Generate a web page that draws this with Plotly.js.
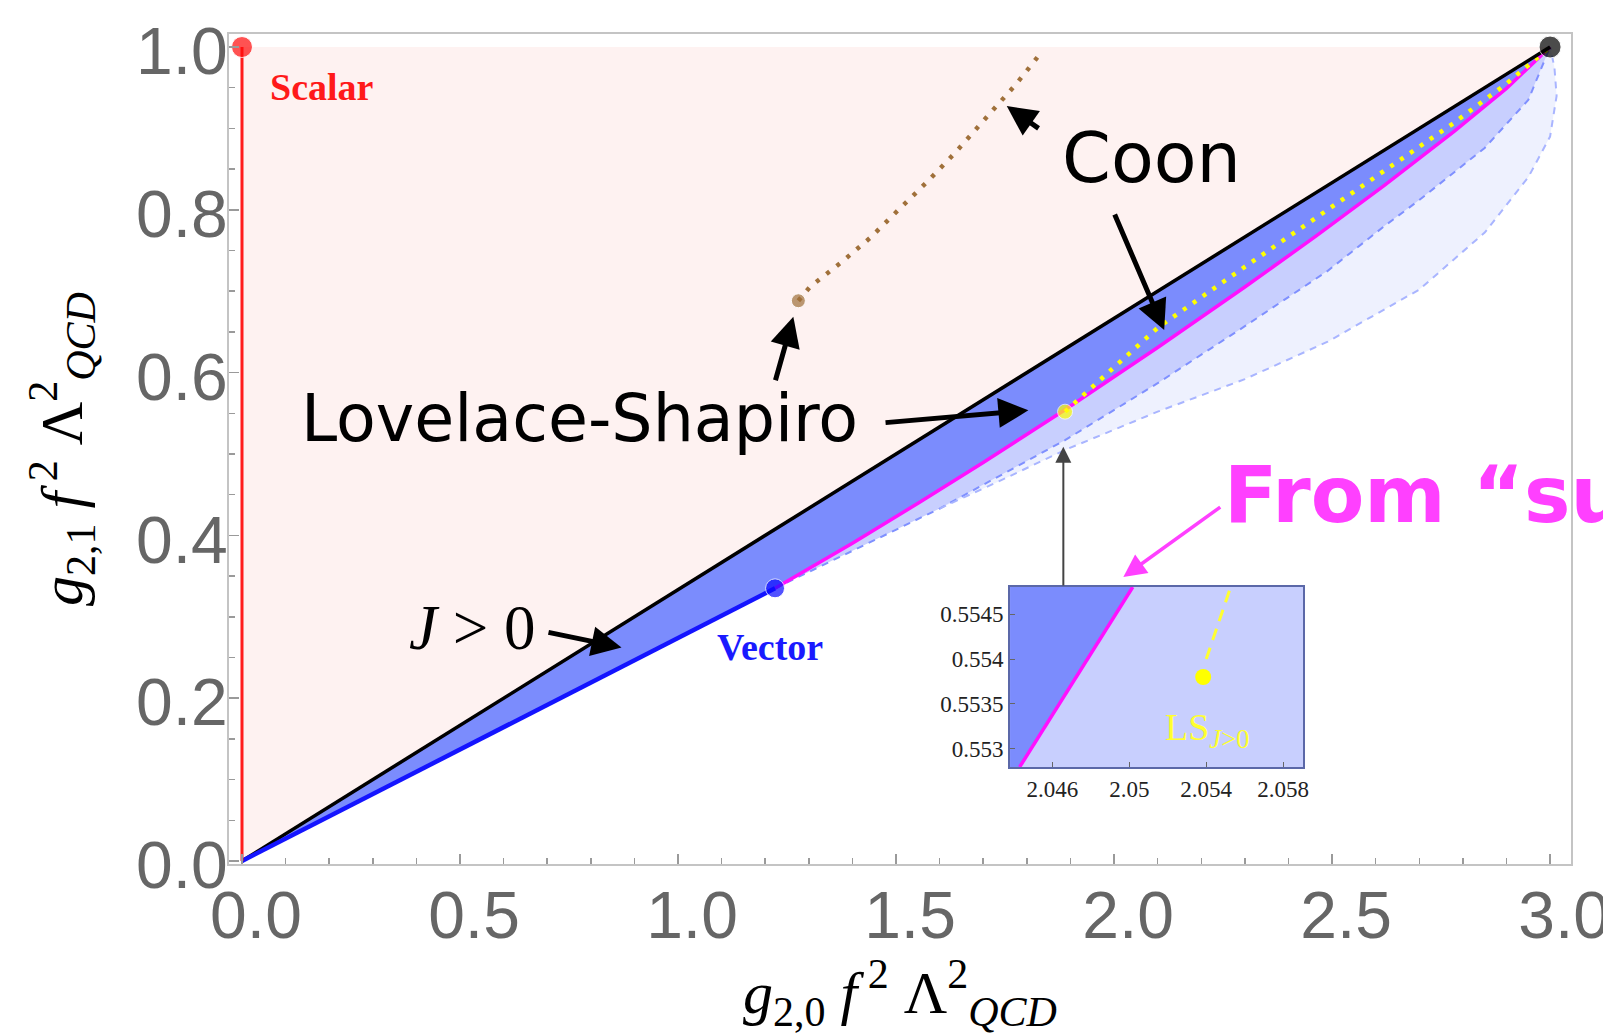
<!DOCTYPE html>
<html>
<head>
<meta charset="utf-8">
<script src="https://cdn.plot.ly/plotly-3.0.1.min.js"></script>
<style>html,body{margin:0;padding:0;background:#fff;}#chart{width:1603px;height:1035px;}</style>
</head>
<body>
<div id="chart"></div>
<script>
// ---- main plot data ----
const scalarX = [0, 0];
const scalarY = [0, 1];
const upperX = [0, 3];           // J>0 upper boundary (black)
const upperY = [0, 1];
const vectorX = [0, 1.2225];      // vector boundary (blue)
const vectorY = [0, 0.335];
const magentaX = [1.2225, 1.4, 1.555, 1.7, 1.8876, 2.1, 2.3, 2.463, 2.62, 2.78, 2.9, 3.0];
const magentaY = [0.335, 0.3905, 0.441, 0.4896, 0.5543, 0.6308, 0.7052, 0.7676, 0.83, 0.8964, 0.9492, 1.0];
const innerX = [1.2225, 1.45, 1.6, 1.8876, 2.1, 2.3, 2.49, 2.62, 2.7, 2.85, 2.95, 3.0];
const innerY = [0.335, 0.394, 0.433, 0.517, 0.587, 0.657, 0.725, 0.78, 0.812, 0.876, 0.935, 1.0];
const outerX = [1.6, 1.75, 1.8876, 2.1, 2.3, 2.49, 2.7, 2.85, 2.95, 3.0, 3.015, 3.01, 3.0];
const outerY = [0.433, 0.47, 0.505, 0.552, 0.592, 0.638, 0.702, 0.772, 0.84, 0.89, 0.94, 0.975, 1.0];
const coonX = [1.8876, 1.95, 2.1, 2.3, 2.463, 2.62, 2.78, 2.9, 3.0];
const coonY = [0.552, 0.582, 0.655, 0.73, 0.79, 0.848, 0.907, 0.955, 1.0];
const brownX = [1.276, 1.303, 1.3755, 1.4404, 1.509, 1.574, 1.6353, 1.6966, 1.7385, 1.7768, 1.815, 1.834];
const brownY = [0.6883, 0.7055, 0.736, 0.7654, 0.8018, 0.8357, 0.870, 0.9063, 0.9308, 0.9554, 0.981, 0.9942];
const pointNames = ['Scalar', 'Vector', 'LS', 'Brown', 'End'];
const pointX = [0, 1.2225, 1.8876, 1.276, 3.0];
const pointY = [1.0, 0.335, 0.552, 0.6883, 1.0];

// ---- inset data ----
const insetMagX = [2.0443, 2.05018];
const insetMagY = [0.5528, 0.5548];
const insetLSX = [2.05384];
const insetLSY = [0.5538];
const insetDashX = [2.0540, 2.05527];
const insetDashY = [0.5540, 0.5548];
const insetXRange = [2.0438, 2.05903];
const insetYRange = [0.55280, 0.5548];

const cPink = '#fef2f1', cDark = '#7b8cfd', cLight = '#c8cffe', cLighter = '#eef1fe';

const rev = a => a.slice().reverse();
const traces = [];
const innTail = innerX.map((x, i) => [x, innerY[i]]).filter(p => p[0] >= 1.6);
traces.push({x: outerX.concat(rev(innTail.map(p => p[0]))), y: outerY.concat(rev(innTail.map(p => p[1]))),
  fill: 'toself', fillcolor: cLighter, line: {width: 0}, mode: 'lines'});
traces.push({x: magentaX.concat(rev(innerX)), y: magentaY.concat(rev(innerY)),
  fill: 'toself', fillcolor: cLight, line: {width: 0}, mode: 'lines'});
traces.push({x: [upperX[0], scalarX[1], upperX[1]], y: [upperY[0], scalarY[1], upperY[1]],
  fill: 'toself', fillcolor: cPink, line: {width: 0}, mode: 'lines'});
traces.push({x: upperX.concat(rev(magentaX), rev(vectorX)), y: upperY.concat(rev(magentaY), rev(vectorY)),
  fill: 'toself', fillcolor: cDark, line: {width: 0}, mode: 'lines'});
traces.push({x: innerX, y: innerY, mode: 'lines', line: {color: '#7f90ff', width: 2, dash: '7px,6px'}});
traces.push({x: outerX, y: outerY, mode: 'lines', line: {color: '#a9b5ff', width: 2, dash: '7px,6px'}});
traces.push({x: magentaX, y: magentaY, mode: 'lines', line: {color: '#ff10ff', width: 3.5}});
traces.push({x: coonX, y: coonY, mode: 'lines', line: {color: '#ffff00', width: 4.5, dash: '4px,8px'}});
traces.push({x: upperX, y: upperY, mode: 'lines', line: {color: '#000000', width: 3.5}});
traces.push({x: vectorX, y: vectorY, mode: 'lines', line: {color: '#1414ff', width: 4.5}});
traces.push({x: scalarX, y: scalarY, mode: 'lines', line: {color: '#ff1c1c', width: 3}});
traces.push({x: brownX, y: brownY, mode: 'lines', line: {color: '#a0703a', width: 4.5, dash: '4px,9px'}});
traces.push({x: pointX, y: pointY, text: pointNames, mode: 'markers', cliponaxis: false,
  marker: {size: [21, 19, 15, 14, 22], color: ['#ff0a0a', '#0a0aff', '#ffff00', '#a0703a', '#000000']}});

// inset traces
const ix = 'x2', iy = 'y2';
traces.push({x: [insetXRange[0], insetMagX[0], insetMagX[1], insetXRange[0]],
  y: [insetYRange[0], insetMagY[0], insetMagY[1], insetYRange[1]],
  fill: 'toself', fillcolor: cDark, line: {width: 0}, mode: 'lines', xaxis: ix, yaxis: iy});
traces.push({x: [insetMagX[0], insetXRange[1], insetXRange[1], insetMagX[1]],
  y: [insetMagY[0], insetYRange[0], insetYRange[1], insetMagY[1]],
  fill: 'toself', fillcolor: cLight, line: {width: 0}, mode: 'lines', xaxis: ix, yaxis: iy});
traces.push({x: insetMagX, y: insetMagY, mode: 'lines', line: {color: '#ff10ff', width: 3.5}, xaxis: ix, yaxis: iy});
traces.push({x: insetDashX, y: insetDashY, mode: 'lines', line: {color: '#ffff30', width: 3, dash: '12px,8px'}, xaxis: ix, yaxis: iy});
traces.push({x: insetLSX, y: insetLSY, mode: 'markers', marker: {size: 16, color: '#ffff00'}, xaxis: ix, yaxis: iy});

function hand(size, color, weight) { return {family: 'DejaVu Sans', size: size, color: color, weight: weight}; }
function arrow(x, y, ax, ay, color, width, size) {
  return {x: x, y: y, ax: ax, ay: ay, xref: 'x', yref: 'y', axref: 'x', ayref: 'y', text: '',
    showarrow: true, arrowhead: 2, arrowsize: size, arrowwidth: width, arrowcolor: color, standoff: 0};
}
const annotations = [
  {x: 2.087, y: 0.8636, xref: 'x', yref: 'y', text: 'Coon', showarrow: false, font: hand(70, '#000', 'normal')},
  {x: 0.775, y: 0.544, xref: 'x', yref: 'y', text: 'Lovelace-Shapiro', showarrow: false, font: hand(65, '#000', 'normal')},
  {x: 2.2477, y: 0.4496, xref: 'x', yref: 'y', xanchor: 'left', text: 'From \u201csu', showarrow: false,
    font: hand(78, '#ff40ff', 'bold')},
  {x: 0.183, y: 0.951, xref: 'x', yref: 'y', text: '<b>Scalar</b>', showarrow: false,
    font: {family: 'Liberation Serif', size: 38, color: '#ff1a1a'}},
  {x: 1.211, y: 0.263, xref: 'x', yref: 'y', text: '<b>Vector</b>', showarrow: false,
    font: {family: 'Liberation Serif', size: 38, color: '#1a1aff'}},
  {x: 0.5275, y: 0.2862, xref: 'x', yref: 'y', text: '<i>J</i> &gt; 0', showarrow: false,
    font: {family: 'Liberation Serif', size: 63, color: '#000'}},
  {x: 2.05405, y: 0.55321, xref: 'x2', yref: 'y2', text: 'LS<sub><i>J</i>&gt;0</sub>', showarrow: false,
    font: {family: 'Liberation Serif', size: 38, color: '#ffff30'}},
  arrow(1.7539, 0.9275, 1.8303, 0.8988, '#000', 5, 1.2),
  arrow(2.115, 0.6523, 2.0, 0.796, '#000', 5, 1.2),
  arrow(1.8035, 0.5537, 1.4725, 0.5384, '#000', 5, 1.2),
  arrow(1.2645, 0.6687, 1.2225, 0.5888, '#000', 5, 1.2),
  arrow(0.8704, 0.2623, 0.6995, 0.2813, '#000', 5, 1.2),
  arrow(1.8837, 0.509, 1.8837, 0.3366, '#444', 2, 1.6),
  arrow(2.0213, 0.3489, 2.247, 0.4361, '#ff40ff', 3.5, 1.3)
];

const tickGray = '#9a9a9a';
const titleFont = {family: 'Liberation Serif', size: 60, color: '#000'};
const layout = {
  width: 1603, height: 1035,
  paper_bgcolor: '#ffffff', plot_bgcolor: '#ffffff',
  margin: {l: 229, r: 32, t: 34, b: 171},
  showlegend: false,
  xaxis: {
    domain: [0, 1], range: [-0.0298, 3.048], tick0: 0, dtick: 0.5, tickformat: '.1f',
    ticks: 'inside', ticklen: 10, tickwidth: 1.5, tickcolor: tickGray,
    minor: {dtick: 0.1, ticks: 'inside', ticklen: 6, tickcolor: tickGray, tickwidth: 1.5},
    showline: true, mirror: true, linecolor: '#c4c4c4', linewidth: 2,
    showgrid: false, zeroline: false, ticklabelshift: 14, ticklabelstandoff: -7,
    ticklabeloverflow: 'allow',
    tickfont: {family: 'Liberation Sans', size: 66, color: '#666'},
    title: {text: '<i>g</i><sub>2,0</sub> <i>f</i><sup> 2</sup> \u039b<sup>2</sup><sub><i>QCD</i></sub>',
      font: titleFont, standoff: 2},
    automargin: false
  },
  yaxis: {
    domain: [0, 1], range: [-0.0037, 1.016], tick0: 0, dtick: 0.2, tickformat: '.1f',
    ticks: 'inside', ticklen: 10, tickwidth: 1.5, tickcolor: tickGray,
    minor: {dtick: 0.05, ticks: 'inside', ticklen: 6, tickcolor: tickGray, tickwidth: 1.5},
    showline: true, mirror: true, linecolor: '#c4c4c4', linewidth: 2,
    showgrid: false, zeroline: false, ticklabelshift: 4, ticklabelstandoff: -14,
    ticklabeloverflow: 'allow',
    tickfont: {family: 'Liberation Sans', size: 66, color: '#666'},
    title: {text: '<i>g</i><sub>2,1</sub> <i>f</i><sup> 2</sup> \u039b<sup>2</sup><sub><i>QCD</i></sub>',
      font: titleFont, standoff: 34},
    automargin: false
  },
  xaxis2: {
    domain: [0.582, 0.8003], anchor: 'y2', range: insetXRange, tick0: 2.046, dtick: 0.004,
    ticks: 'inside', ticklen: 5, tickcolor: '#666', showline: true, mirror: true,
    linecolor: '#5b68a8', linewidth: 2, showgrid: false, zeroline: false,
    tickfont: {family: 'Liberation Serif', size: 23, color: '#222'}
  },
  yaxis2: {
    domain: [0.1169, 0.3337], anchor: 'x2', range: insetYRange, tick0: 0.553, dtick: 0.0005,
    ticks: 'inside', ticklen: 5, tickcolor: '#666', showline: true, mirror: true,
    linecolor: '#5b68a8', linewidth: 2, showgrid: false, zeroline: false,
    tickfont: {family: 'Liberation Serif', size: 23, color: '#222'}
  },
  annotations: annotations
};

Plotly.newPlot('chart', traces, layout, {displayModeBar: false, staticPlot: true});
</script>
</body>
</html>
